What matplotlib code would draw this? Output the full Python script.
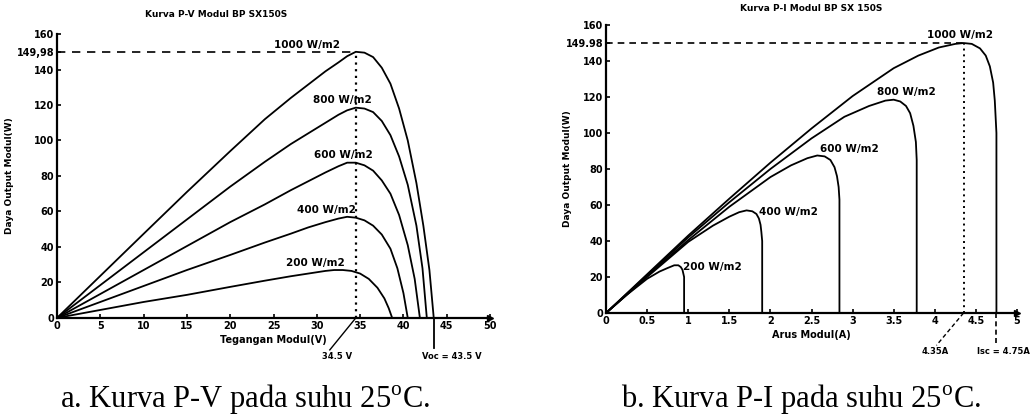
import matplotlib
matplotlib.use('Agg')
import matplotlib.pyplot as plt

# P-V curves (voltage V, power W) per irradiance
v_1000 = [0, 5, 10, 15, 20, 24, 27, 29, 31, 32.5, 33.5, 34.5, 35.5, 36.5, 37.5, 38.5, 39.5, 40.5, 41.5, 42.3, 43, 43.5]
p_1000 = [0, 23.7, 47.4, 71, 94, 112, 124, 131.5, 139, 144, 147.5, 149.98, 149.5, 147, 141, 132, 118, 100, 76, 52, 27, 0]
v_800 = [0, 5, 10, 15, 20, 24, 27, 29, 31, 32.5, 33.5, 34.5, 35.5, 36.5, 37.5, 38.5, 39.5, 40.5, 41.5, 42.2, 42.7]
p_800 = [0, 18.5, 37, 55.5, 74, 88, 98, 104, 110, 114.5, 117, 118.5, 118, 116, 111, 103, 91, 75, 52, 28, 0]
v_600 = [0, 5, 10, 15, 20, 24, 27, 29, 31, 32.5, 33.5, 34.5, 35.5, 36.5, 37.5, 38.5, 39.5, 40.5, 41.3, 41.9]
p_600 = [0, 13.5, 27, 40.5, 54, 64, 72, 77, 82, 85.5, 87.5, 87.5, 86, 83, 77.5, 70, 58, 41, 22, 0]
v_400 = [0, 5, 10, 15, 20, 24, 27, 29, 31, 32.5, 33.5, 34.5, 35.5, 36.5, 37.5, 38.5, 39.3, 40, 40.5]
p_400 = [0, 9, 18, 27, 35.5, 42.5, 47.5, 51, 54, 56, 57, 56.5, 55, 52, 47, 39, 28, 14, 0]
v_200 = [0, 5, 10, 15, 20, 24, 27, 29, 31, 32, 33, 34, 35, 36, 37, 37.8, 38.3, 38.7]
p_200 = [0, 4.5, 9, 13, 17.5, 21, 23.5, 25, 26.5, 27, 27, 26.5, 25, 22, 17, 11, 5.5, 0]

# P-I curves (current A, power W) per irradiance
i_1000 = [0, 0.5, 1, 1.5, 2, 2.5, 3, 3.5, 3.8, 4.05, 4.25, 4.35, 4.45, 4.55, 4.62, 4.67, 4.71, 4.73, 4.75, 4.75]
q_1000 = [0, 21.5, 43, 63.5, 83.5, 102.5, 120.5, 136, 143, 147.5, 149.5, 149.98, 149.5, 147, 143, 137, 128, 118, 100, 0]
i_800 = [0, 0.5, 1, 1.5, 2, 2.5, 2.9, 3.2, 3.4, 3.5, 3.58, 3.65, 3.7, 3.74, 3.77, 3.78, 3.78]
q_800 = [0, 21, 42, 61.5, 80, 97, 109, 115, 118, 118.5, 117.5, 115, 111, 104, 95, 85, 0]
i_600 = [0, 0.5, 1, 1.5, 2, 2.25, 2.45, 2.57, 2.66, 2.73, 2.78, 2.81, 2.83, 2.84, 2.84]
q_600 = [0, 20.5, 40.5, 59, 75.5, 82, 86, 87.5, 87, 85, 81, 76, 70, 63, 0]
i_400 = [0, 0.5, 1, 1.3, 1.5, 1.62, 1.71, 1.78, 1.83, 1.86, 1.88, 1.89, 1.9, 1.9]
q_400 = [0, 20, 39.5, 48.5, 53.5, 56, 57, 56.5, 55, 52.5, 49, 45, 40, 0]
i_200 = [0, 0.25, 0.5, 0.65, 0.75, 0.83, 0.88, 0.91, 0.93, 0.94, 0.95, 0.95]
q_200 = [0, 10, 19, 23, 25, 26.5, 26.5, 25.5, 24, 22, 20, 0]

labels = ['1000 W/m2', '800 W/m2', '600 W/m2', '400 W/m2', '200 W/m2']
pv_label_pos = [(28.9, 154), (32.9, 123), (33.1, 92), (31.1, 61), (29.8, 31)]
pi_label_pos = [(4.31, 154.5), (3.66, 122.7), (2.96, 91), (2.22, 56), (1.30, 25.5)]

p_max = 149.98
v_mp = 34.5
v_oc = 43.5
i_mp = 4.35
i_sc = 4.75

pv_x = [0, 5, 10, 15, 20, 25, 30, 35, 40, 45, 50]
pi_x = [0, 0.5, 1, 1.5, 2, 2.5, 3, 3.5, 4, 4.5, 5]
y_ticks = [0, 20, 40, 60, 80, 100, 120, 140, 160]

plt.rcParams['font.family'] = ['DejaVu Sans']
plt.rcParams['mathtext.fontset'] = 'custom'
plt.rcParams['mathtext.rm'] = 'Liberation Serif'

fig = plt.figure(figsize=(10.31, 4.2), dpi=100)
ax1 = fig.add_axes([0.0553, 0.243, 0.42, 0.676])
ax2 = fig.add_axes([0.5878, 0.2548, 0.3986, 0.6857])

small = dict(fontsize=7, fontweight='bold')
lab = dict(fontsize=7.5, fontweight='bold', ha='center', va='center')


def style_axes(ax, xticks, xmax, ticklabels):
    for s in ['top', 'right']:
        ax.spines[s].set_visible(False)
    ax.spines['left'].set_linewidth(1.6)
    ax.spines['bottom'].set_linewidth(1.6)
    ax.set_xlim(0, xmax)
    ax.set_ylim(0, 160)
    ax.set_xticks(xticks)
    ax.set_xticklabels(ticklabels, **small)
    ax.set_yticks(y_ticks + [p_max])
    ax.tick_params(direction='in', length=3, width=1.2, pad=2)
    ax.plot(1, 0, '>k', transform=ax.transAxes, clip_on=False, markersize=4)


# ---- left: P-V ----
for v, p in [(v_1000, p_1000), (v_800, p_800), (v_600, p_600), (v_400, p_400), (v_200, p_200)]:
    ax1.plot(v, p, color='black', lw=1.3)
for t, (x, y) in zip(labels, pv_label_pos):
    ax1.text(x, y, t, **lab)
style_axes(ax1, pv_x, 50, [str(x) for x in pv_x])
ax1.set_yticklabels([str(y) for y in y_ticks] + ['149,98'], **small)
ax1.plot([0, v_mp], [p_max, p_max], color='black', lw=1.2, ls=(0, (5, 4)))
ax1.plot([v_mp, v_mp], [0, p_max], color='black', lw=1.6, ls=(0, (1, 2)))
ax1.plot([v_mp, 31.5], [0, -18], color='black', lw=1.0, clip_on=False)
ax1.plot([v_oc, v_oc], [0, -17], color='black', lw=1.3, clip_on=False)
ax1.text(32.3, -22, '34.5 V', fontsize=6, fontweight='bold', ha='center', va='center')
ax1.text(45.6, -22, 'Voc = 43.5 V', fontsize=6, fontweight='bold', ha='center', va='center')
ax1.set_xlabel('Tegangan Modul(V)', fontsize=7, fontweight='bold', labelpad=3)
ax1.set_ylabel('Daya Output Modul(W)', fontsize=6.5, fontweight='bold')
ax1.yaxis.set_label_coords(-0.1, 0.5)
ax1.set_title('Kurva P-V Modul BP SX150S', fontsize=6.5, fontweight='bold', pad=12, x=0.367)

# ---- right: P-I ----
for i, q in [(i_1000, q_1000), (i_800, q_800), (i_600, q_600), (i_400, q_400), (i_200, q_200)]:
    ax2.plot(i, q, color='black', lw=1.3)
for t, (x, y) in zip(labels, pi_label_pos):
    ax2.text(x, y, t, **lab)
style_axes(ax2, pi_x, 5, ['0', '0.5', '1', '1.5', '2', '2.5', '3', '3.5', '4', '4.5', '5'])
ax2.set_yticklabels([str(y) for y in y_ticks] + ['149.98'], **small)
ax2.plot([0, i_mp], [p_max, p_max], color='black', lw=1.2, ls=(0, (4, 3)))
ax2.plot([i_mp, i_mp], [0, p_max], color='black', lw=1.4, ls=(0, (1, 2)))
ax2.plot([i_mp, 4.02], [0, -18], color='black', lw=1.0, ls=(0, (3, 2)), clip_on=False)
ax2.plot([i_sc, i_sc], [0, -17], color='black', lw=1.2, ls=(0, (3, 2)), clip_on=False)
ax2.text(4.0, -21.5, '4.35A', fontsize=6, fontweight='bold', ha='center', va='center')
ax2.text(4.84, -21.5, 'Isc = 4.75A', fontsize=6, fontweight='bold', ha='center', va='center')
ax2.set_xlabel('Arus Modul(A)', fontsize=7, fontweight='bold', labelpad=3)
ax2.set_ylabel('Daya Output Modul(W)', fontsize=6.5, fontweight='bold')
ax2.yaxis.set_label_coords(-0.083, 0.5)
ax2.set_title('Kurva P-I Modul BP SX 150S', fontsize=6.5, fontweight='bold', pad=10)

# ---- captions ----
fig.text(0.238, 0.031, r'a. Kurva P-V pada suhu 25$^\mathrm{o}$C.', family='Liberation Serif',
         fontsize=22, ha='center', va='baseline')
fig.text(0.777, 0.031, r'b. Kurva P-I pada suhu 25$^\mathrm{o}$C.', family='Liberation Serif',
         fontsize=22, ha='center', va='baseline')

fig.savefig('out.png', dpi=100)
